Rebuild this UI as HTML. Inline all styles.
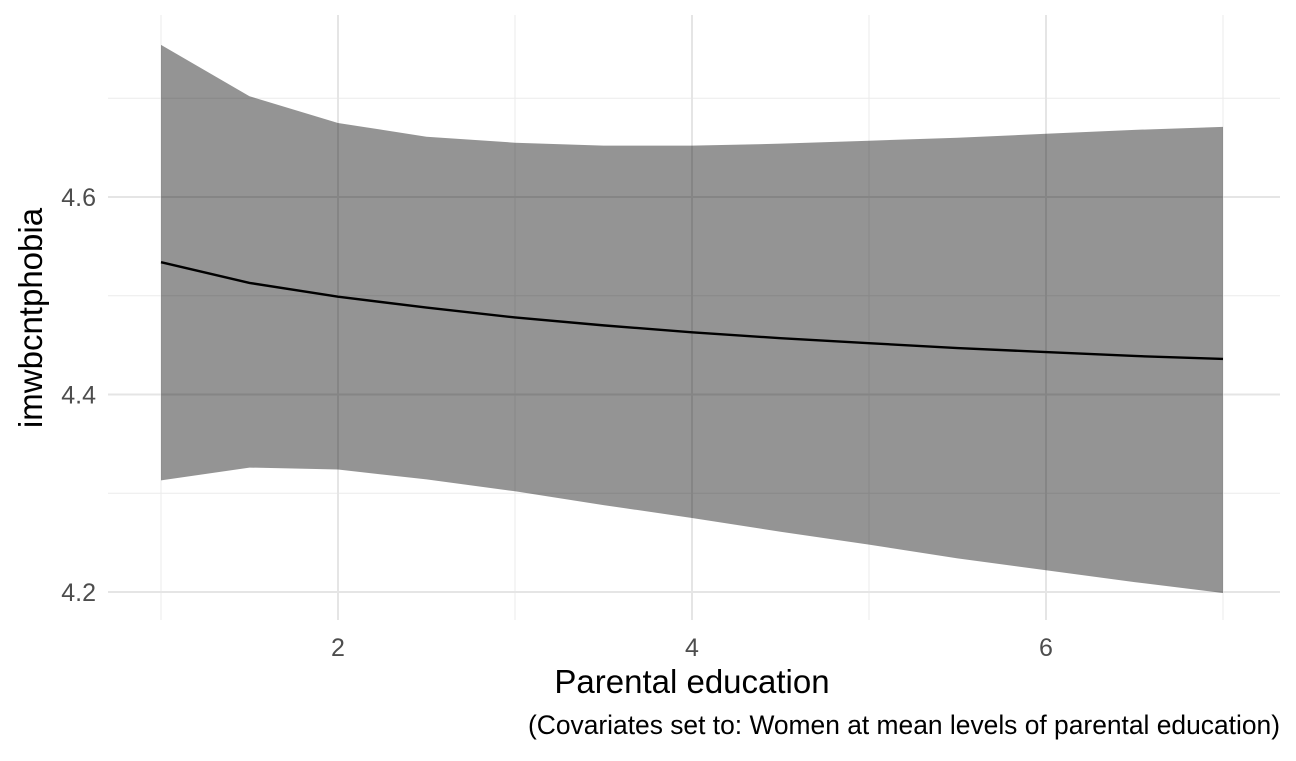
<!DOCTYPE html>
<html><head><meta charset="utf-8"><style>
html,body{margin:0;padding:0;background:#fff;}
svg text{font-family:"Liberation Sans",Arial,sans-serif;}
</style></head><body>
<svg id="chart" width="1296" height="756" xmlns="http://www.w3.org/2000/svg">
<g id="grid"></g>
<g id="marks"></g>
<g id="axes"></g>
<text x="42" y="318" transform="rotate(-90 42 318)" text-anchor="middle" font-size="33" fill="#000">imwbcntphobia</text>
<text x="692" y="693" text-anchor="middle" font-size="33" fill="#000">Parental education</text>
<text x="1280" y="734" text-anchor="end" font-size="26.4" fill="#000">(Covariates set to: Women at mean levels of parental education)</text>
</svg>
<script>
const xs = [1,1.5,2,2.5,3,3.5,4,4.5,5,5.5,6,6.5,7];
const fitValues = [4.534,4.513,4.499,4.488,4.478,4.470,4.463,4.457,4.452,4.447,4.443,4.439,4.436];
const upperValues = [4.754,4.702,4.675,4.661,4.655,4.652,4.652,4.654,4.657,4.660,4.664,4.668,4.671];
const lowerValues = [4.313,4.326,4.324,4.314,4.302,4.288,4.275,4.261,4.248,4.234,4.222,4.210,4.199];
const xTicks = [2,4,6];
const xMinor = [1,3,5,7];
const yTicks = [4.2,4.4,4.6];
const yMinor = [4.3,4.5,4.7];

const X = v => 338 + (v-2)*177;
const Y = v => 197 + (4.6-v)*987.5;
const NS = "http://www.w3.org/2000/svg";
function mk(tag, attrs, parent){const e=document.createElementNS(NS,tag);for(const k in attrs)e.setAttribute(k,attrs[k]);parent.appendChild(e);return e;}
const grid=document.getElementById('grid'), marks=document.getElementById('marks'), axes=document.getElementById('axes');
const L=108,R=1280,T=15,B=620;
yMinor.forEach(v=>{const l=mk('line',{x1:L,x2:R,y1:Y(v),y2:Y(v),stroke:'#ebebeb','stroke-width':1},grid);

});
xMinor.forEach(v=>{const l=mk('line',{x1:X(v),x2:X(v),y1:T,y2:B,stroke:'#ebebeb','stroke-width':1},grid);

});
yTicks.forEach(v=>{const l=mk('line',{x1:L,x2:R,y1:Y(v),y2:Y(v),stroke:'#e5e5e5','stroke-width':2},grid);


const t=mk('text',{x:96,y:Y(v)+9,'text-anchor':'end','font-size':25,fill:'#4d4d4d'},axes);t.textContent=v.toFixed(1);

});
xTicks.forEach(v=>{const l=mk('line',{x1:X(v),x2:X(v),y1:T,y2:B,stroke:'#e5e5e5','stroke-width':2},grid);


const t=mk('text',{x:X(v),y:656,'text-anchor':'middle','font-size':25,fill:'#4d4d4d'},axes);t.textContent=v;

});
let d='M'+xs.map((x,i)=>X(x)+','+Y(upperValues[i])).join('L');
for(let i=xs.length-1;i>=0;i--)d+='L'+X(xs[i])+','+Y(lowerValues[i]);
d+='Z';
const band=mk('path',{d:d,fill:'rgba(0,0,0,0.42)'},marks);


const line=mk('polyline',{points:xs.map((x,i)=>X(x)+','+Y(fitValues[i])).join(' '),fill:'none',stroke:'#000','stroke-width':2.4},marks);


</script>
</body></html>
